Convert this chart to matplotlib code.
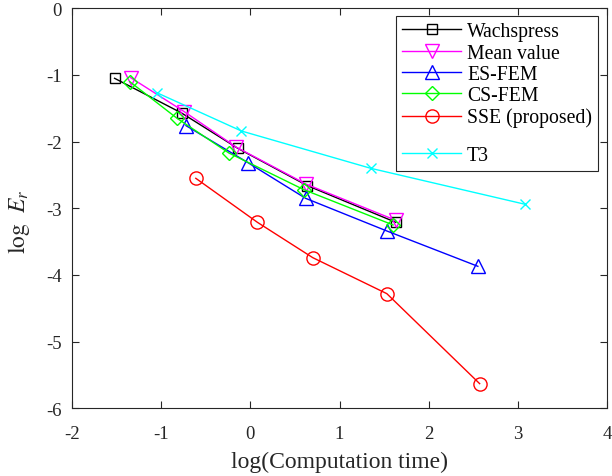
import matplotlib
matplotlib.use("Agg")
import matplotlib.pyplot as plt
from matplotlib.lines import Line2D

plt.rcParams['font.family'] = ['Liberation Serif', 'DejaVu Serif']
plt.rcParams['mathtext.fontset'] = 'stix'

# Data (log computation time, log error)
wach_x = [-1.52, -0.77, -0.14, 0.64, 1.63]
wach_y = [-1.05, -1.57, -2.10, -2.66, -3.21]
mean_x = [-1.34, -0.74, -0.16, 0.63, 1.63]
mean_y = [-1.04, -1.55, -2.08, -2.64, -3.18]
es_x = [-0.72, -0.02, 0.62, 1.53, 2.55]
es_y = [-1.76, -2.32, -2.85, -3.34, -3.87]
cs_x = [-1.35, -0.82, -0.24, 0.60, 1.60]
cs_y = [-1.10, -1.65, -2.17, -2.72, -3.25]
sse_x = [-0.61, 0.08, 0.70, 1.53, 2.57]
sse_y = [-2.55, -3.21, -3.74, -4.28, -5.63]
t3_x = [-1.04, -0.10, 1.35, 3.08]
t3_y = [-1.27, -1.84, -2.40, -2.94]

xticks = [-2, -1, 0, 1, 2, 3, 4]
yticks = [0, -1, -2, -3, -4, -5, -6]

fig = plt.figure(figsize=(6.12, 4.77), dpi=100)
ax = fig.add_axes([0.1172, 0.1419, 0.8751, 0.8386])

lw = 1.0
ax.plot(wach_x, wach_y, color='k', marker='s', ms=7, mfc='none', mew=1.0, lw=lw, label='Wachspress')
ax.plot(mean_x, mean_y, color='#ff00ff', marker='v', ms=10, mfc='none', mew=1.0, lw=lw, label='Mean value')
ax.plot(es_x, es_y, color='#0000ff', marker='^', ms=10, mfc='none', mew=1.0, lw=lw, label='ES-FEM')
ax.plot(cs_x, cs_y, color='#00ff00', marker='D', ms=7.5, mfc='none', mew=1.0, lw=lw, label='CS-FEM')
ax.plot(sse_x, sse_y, color='#ff0000', marker='o', ms=9.5, mfc='none', mew=1.0, lw=lw, label='SSE (proposed)')
ax.plot(t3_x, t3_y, color='#00ffff', marker='x', ms=7, mew=1.0, lw=lw, label='T3')

ax.set_xlim(-2, 4)
ax.set_ylim(-6, 0)
ax.set_xticks(xticks)
ax.set_yticks(yticks)
ax.set_xticklabels([str(v) for v in xticks])
ax.set_yticklabels([str(v) for v in yticks])

gray = '#262626'
for s in ax.spines.values():
    s.set_color(gray)
    s.set_linewidth(0.8)
ax.tick_params(direction='in', top=True, right=True, length=5, width=0.8,
               colors=gray, labelsize=13.5, labelcolor=gray)
ax.tick_params(axis='x', pad=12)
ax.tick_params(axis='y', pad=7)

ax.set_xlabel('log(Computation time)', fontsize=17, color=gray, labelpad=6)
ax.set_ylabel(r'$\mathrm{log}\ \ E_r$', fontsize=17, color=gray)
ax.yaxis.set_label_coords(-0.074, 0.47)

handles, labels = ax.get_legend_handles_labels()
blank = Line2D([], [], alpha=0)
handles = handles[:5] + [blank] + handles[5:]
labels = labels[:5] + [''] + labels[5:]
leg = ax.legend(handles, labels, loc='upper right', bbox_to_anchor=(0.9827, 0.98),
                borderaxespad=0, fontsize=14.2, frameon=True, fancybox=False,
                framealpha=1, edgecolor=gray, handlelength=3.0, handletextpad=0.3,
                labelspacing=0.12, borderpad=0.3)
leg.get_frame().set_linewidth(0.8)
leg.get_texts()[5].set_fontsize(1)

fig.savefig('out.png', dpi=100)
